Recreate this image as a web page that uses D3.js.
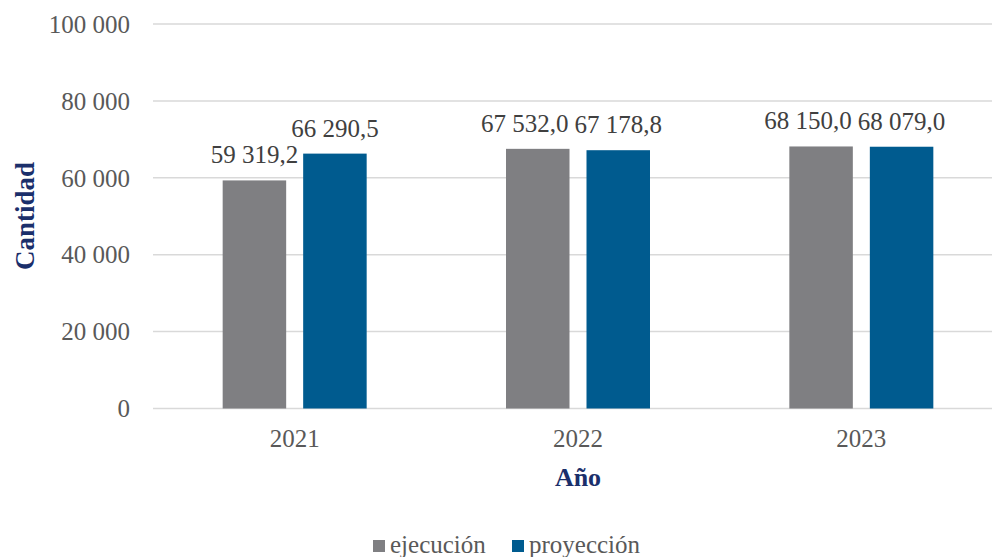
<!DOCTYPE html>
<html><head><meta charset="utf-8">
<script src="https://cdn.jsdelivr.net/npm/d3@7"></script>
<style>body{margin:0;background:#fff}svg{display:block}</style>
</head><body>
<svg id="c" width="992" height="557"></svg>
<script>
const categories = ["2021", "2022", "2023"];
const seriesNames = ["ejecución", "proyección"];
const ejecucion = [59319.2, 67532.0, 68150.0];
const proyeccion = [66290.5, 67178.8, 68079.0];
const yTicks = [0, 20000, 40000, 60000, 80000, 100000];
const colors = ["#7f7f82", "#005b8f"];

const FONT = "'Liberation Serif', serif";
const FS = 25;
const svg = d3.select("#c");
const x0 = d3.scaleBand().domain(categories).range([153, 1003]).paddingInner(0).paddingOuter(0);
const y = d3.scaleLinear().domain([0, 100000]).range([408.5, 24]);

const fmtTick = v => d3.format(",")(v).replace(/,/g, " ");
const fmtVal = v => d3.format(",.1f")(v).replace(/,/g, " ").replace(".", ",");

// gridlines
svg.append("g").selectAll("line").data(yTicks).join("line")
  .attr("x1", 153).attr("x2", 992)
  .attr("y1", d => y(d)).attr("y2", d => y(d))
  .attr("stroke", "#d9d9d9").attr("stroke-width", 1.5);

// y tick labels
svg.append("g").selectAll("text").data(yTicks).join("text")
  .attr("x", 130).attr("y", d => y(d)).attr("dy", "0.35em")
  .attr("text-anchor", "end").attr("font-family", FONT).attr("font-size", FS)
  .attr("fill", "#595959").text(fmtTick);

// bars
const series = [ejecucion, proyeccion];
const barW = 63.5, gap = 17;
const offsets = [-(gap/2 + barW), gap/2];
const labels = [[], []];
series.forEach((vals, si) => {
  const g = svg.append("g");
  g.selectAll("rect").data(vals).join("rect")
    .attr("x", (d, i) => x0(categories[i]) + x0.bandwidth()/2 + offsets[si])
    .attr("width", barW)
    .attr("y", d => y(d))
    .attr("height", d => y(0) - y(d))
    .attr("fill", colors[si]);
  g.selectAll("text").data(vals).join("text")
    .attr("x", (d, i) => x0(categories[i]) + x0.bandwidth()/2 + offsets[si] + barW/2)
    .attr("y", d => y(d) - 17)
    .attr("text-anchor", "middle").attr("font-family", FONT).attr("font-size", FS)
    .attr("fill", "#404040").text(fmtVal)
    .each(function(d, i) { labels[si][i] = this; });
});
// avoid overlapping value labels: shift the left one leftwards
categories.forEach((c, i) => {
  const a = labels[0][i], b = labels[1][i];
  const ba = a.getBBox(), bb = b.getBBox();
  const vOverlap = Math.abs(+a.getAttribute("y") - +b.getAttribute("y")) < 18;
  const need = (ba.x + ba.width + 6) - bb.x;
  if (vOverlap && need > 0) a.setAttribute("x", +a.getAttribute("x") - need);
});

// x labels
svg.append("g").selectAll("text").data(categories).join("text")
  .attr("x", d => x0(d) + x0.bandwidth()/2).attr("y", 447)
  .attr("text-anchor", "middle").attr("font-family", FONT).attr("font-size", FS)
  .attr("fill", "#595959").text(d => d);

// axis titles
svg.append("text").attr("x", 578).attr("y", 486).attr("text-anchor", "middle")
  .attr("font-family", FONT).attr("font-size", 26).attr("font-weight", "bold")
  .attr("fill", "#1b2f6b").text("Año");
svg.append("text").attr("transform", "translate(34,216) rotate(-90)")
  .attr("text-anchor", "middle").attr("font-family", FONT).attr("font-size", 27)
  .attr("font-weight", "bold").attr("fill", "#1b2f6b").text("Cantidad");

// legend
const legX = [373, 512];
const lg = svg.append("g");
seriesNames.forEach((n, i) => {
  lg.append("rect").attr("x", legX[i]).attr("y", 540).attr("width", 12).attr("height", 12).attr("fill", colors[i]);
  lg.append("text").attr("x", legX[i] + 17).attr("y", 553).attr("font-family", FONT)
    .attr("font-size", FS).attr("fill", "#595959").text(n);
});
</script>
</body></html>
